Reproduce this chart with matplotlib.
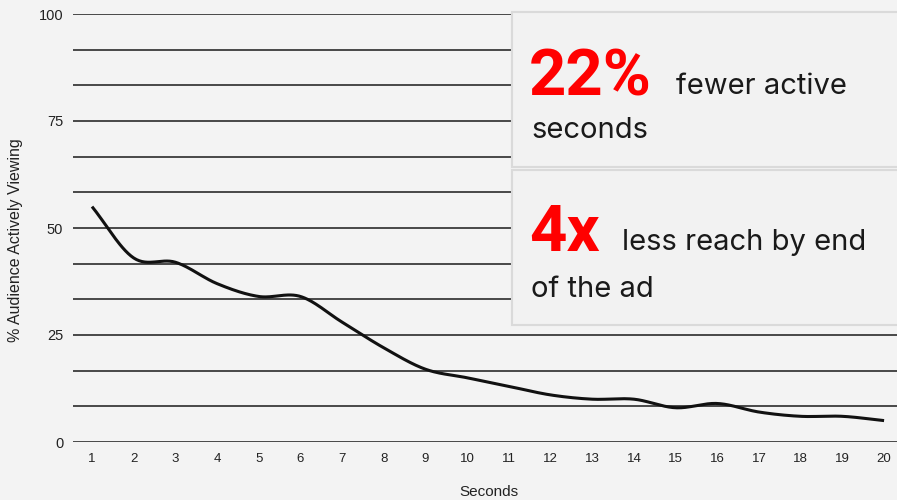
import numpy as np
import matplotlib.pyplot as plt
from matplotlib.patches import Rectangle

# Share of audience still actively viewing, per second of the ad
seconds = list(range(1, 21))
viewing = [55, 43, 42, 37, 34, 34, 28, 22, 17, 15, 13, 11, 10, 10, 8, 9, 7, 6, 6, 5]
y_ticks = [0, 25, 50, 75, 100]

W, H = 897, 500
BG = '#f3f3f3'


def catmull_rom(x, y, steps=30):
    # smooth line through the points, same look as the spreadsheet "smooth" option
    x = np.asarray(x, float)
    y = np.asarray(y, float)
    px = np.concatenate([[2 * x[0] - x[1]], x, [2 * x[-1] - x[-2]]])
    py = np.concatenate([[2 * y[0] - y[1]], y, [2 * y[-1] - y[-2]]])
    xs, ys = [], []
    t = np.linspace(0, 1, steps, endpoint=False)
    for i in range(1, len(px) - 2):
        for p, out in ((px, xs), (py, ys)):
            p0, p1, p2, p3 = p[i - 1], p[i], p[i + 1], p[i + 2]
            out.append(0.5 * (2 * p1 + (-p0 + p2) * t
                              + (2 * p0 - 5 * p1 + 4 * p2 - p3) * t ** 2
                              + (-p0 + 3 * p1 - 3 * p2 + p3) * t ** 3))
    xs.append([x[-1]])
    ys.append([y[-1]])
    return np.concatenate(xs), np.concatenate(ys)


fig = plt.figure(figsize=(W / 100, H / 100), dpi=100, facecolor=BG)
ax = fig.add_axes([73 / W, 1 - 442 / H, 1 - 73 / W, (442 - 14) / H])
ax.set_facecolor(BG)

# horizontal rules every 1/12 of the range
for g in np.linspace(0, 100, 13):
    ax.axhline(g, color='#1a1a1a', lw=1.1, zorder=1)

sx, sy = catmull_rom(seconds, viewing)
ax.plot(sx, sy, color='#111111', lw=2.2, zorder=3, solid_capstyle='butt')

ax.set_xlim(0.544, 20.31)
ax.set_ylim(0, 100)
ax.set_xticks(seconds)
ax.set_yticks(y_ticks)
ax.tick_params(length=0, labelcolor='#222222')
ax.tick_params(axis='x', pad=8, labelsize=9.5)
ax.tick_params(axis='y', pad=7, labelsize=10.5)
for lab in ax.get_xticklabels() + ax.get_yticklabels():
    lab.set_family('Liberation Sans')
for s in ax.spines.values():
    s.set_visible(False)

fig.text(489 / W, 1 - 492 / H, 'Seconds', ha='center', va='center',
         fontsize=11, family='Liberation Sans', color='#222222')
fig.text(16 / W, 1 - 240 / H, '% Audience Actively Viewing', ha='center', va='center',
         rotation=90, fontsize=11.5, family='Liberation Sans', color='#222222')

# callout boxes on the right
for top, bottom in ((12, 167), (170, 325)):
    fig.patches.append(Rectangle((511.5 / W, 1 - bottom / H), (W - 511.5 + 5) / W, (bottom - top) / H,
                                 transform=fig.transFigure, facecolor='#f2f2f2',
                                 edgecolor='#dadada', lw=1.5, zorder=5))


def px_text(x, y, s, **kw):
    fig.text(x / W, 1 - y / H, s, va='baseline', ha='left', zorder=6, **kw)


big = dict(fontsize=47, family='Roboto', weight='bold', color='#ff0000')
small = dict(fontsize=21, family='Inter', color='#1a1a1a')
px_text(529, 95, '22%', **big)
px_text(676, 94, 'fewer active', **small)
px_text(531, 138, 'seconds', **small)
px_text(529, 251, '4x', **big)
px_text(622, 250, 'less reach by end', **small)
px_text(531, 297, 'of the ad', **small)

fig.savefig('out.png', dpi=100, facecolor=BG)
